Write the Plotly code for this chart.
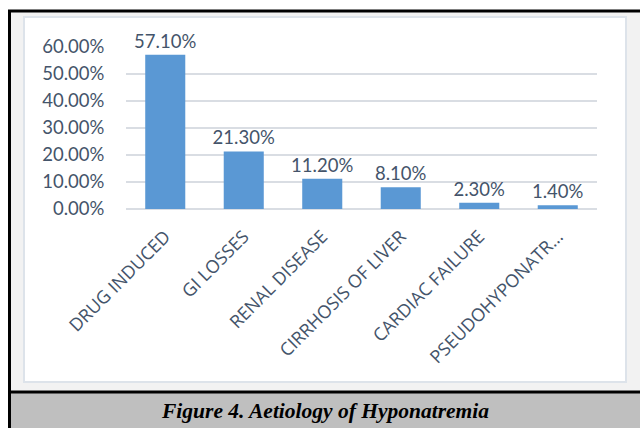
import plotly.graph_objects as go

categories = ["DRUG INDUCED", "GI LOSSES", "RENAL DISEASE", "CIRRHOSIS OF LIVER",
              "CARDIAC FAILURE", "PSEUDOHYPONATR…"]
values = [57.10, 21.30, 11.20, 8.10, 2.30, 1.40]
tick_vals = [0, 10, 20, 30, 40, 50, 60]
tick_text = ["0.00%", "10.00%", "20.00%", "30.00%", "40.00%", "50.00%", "60.00%"]
caption = "Figure 4. Aetiology of Hyponatremia"

W, H = 640, 428
# plot area in pixels
PL, PR, PT, PB = 126, 597, 47, 209


def fx(x):
    return x / W


def fy(y):
    return (H - y) / H


TEXT = "#44546a"

fig = go.Figure()
fig.add_trace(go.Bar(
    x=categories, y=values,
    marker=dict(color="#5a98d4", line=dict(width=0)),
    texttemplate="%{y:.2f}%", textposition="outside", constraintext="none",
    textfont=dict(family="Lato", size=18.5, color=TEXT),
    cliponaxis=False, width=0.51,
))

P = dict(xref="paper", yref="paper", layer="below")
shapes = [
    dict(type="rect", x0=fx(10), x1=fx(640), y0=fy(10), y1=fy(392),
         fillcolor="#f2f2f2", line=dict(width=0), **P),
    dict(type="rect", x0=fx(24), x1=fx(626), y0=fy(17), y1=fy(382),
         fillcolor="#ffffff", line=dict(color="#dde3ea", width=2), **P),
    dict(type="rect", x0=fx(10), x1=fx(640), y0=fy(392), y1=fy(428),
         fillcolor="#bfbfbf", line=dict(width=0), **P),
    dict(type="line", x0=fx(8), x1=fx(640), y0=fy(11), y1=fy(11),
         line=dict(color="black", width=3), **P),
    dict(type="line", x0=fx(9.5), x1=fx(9.5), y0=fy(10), y1=fy(428),
         line=dict(color="black", width=3), **P),
    dict(type="line", x0=fx(8), x1=fx(640), y0=fy(392), y1=fy(392),
         line=dict(color="black", width=3), **P),
]

fig.update_layout(
    width=W, height=H,
    margin=dict(l=0, r=0, t=0, b=0, pad=0),
    paper_bgcolor="white", plot_bgcolor="rgba(0,0,0,0)",
    showlegend=False, bargap=0.49,
    shapes=shapes,
    annotations=[dict(text="<b><i>" + caption + "</i></b>", xref="paper", yref="paper",
                      x=fx(325), y=fy(411), showarrow=False,
                      font=dict(family="Liberation Serif", size=21.5, color="black"),
                      xanchor="center", yanchor="middle")],
    xaxis=dict(domain=[fx(PL), fx(PR)], automargin=False,
               tickangle=-45, tickfont=dict(family="Open Sans", size=18, color=TEXT),
               showgrid=False, showline=False, zeroline=False,
               ticks="outside", ticklen=9, tickcolor="rgba(0,0,0,0)"),
    yaxis=dict(domain=[fy(PB), fy(PT)], automargin=False,
               range=[0, 60], tickvals=tick_vals, ticktext=tick_text,
               tickfont=dict(family="Lato", size=18.5, color=TEXT),
               showgrid=True, gridcolor="#d9dde3", gridwidth=1.5,
               zeroline=True, zerolinecolor="#d9dde3", zerolinewidth=1.5,
               showline=False, ticks="outside", ticklen=17, tickcolor="rgba(0,0,0,0)"),
)

fig.write_html("out.html", config={"displayModeBar": False},
               post_script="document.body.style.margin='0';")
